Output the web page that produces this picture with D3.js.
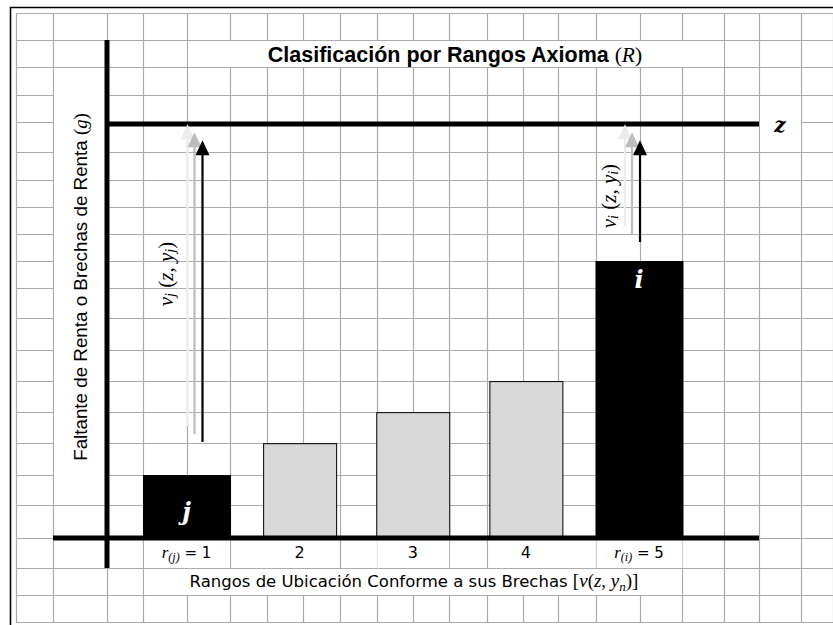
<!DOCTYPE html>
<html><head><meta charset="utf-8">
<script src="https://cdn.jsdelivr.net/npm/d3@7"></script>
<style>html,body{margin:0;padding:0;background:#fff;}svg{display:block;}</style>
</head><body>
<svg id="chart" width="833" height="625"></svg>
<script>
// ---- data ----
const categories = ["1", "2", "3", "4", "5"];
const barValues = [15.2, 22.9, 30.4, 37.9, 66.9];   // gap heights (z = 100)
const barLetters = ["j", "", "", "", "i"];
const tickPrefix = ["r", "", "", "", "r"];
const tickSub = ["(j)", "", "", "", "(i)"];
const tickNums = ["1", "2", "3", "4", "5"];
const zValue = 100;
const arrowCats = ["1", "5"];
const arrowStart = [23.2, 71.5];
const arrowEnd = 96.1;
const arrowSubs = ["j", "i"];

// ---- layout (spreadsheet grid) ----
const colEdges = [16, 53, 107, 143, 187, 230, 267, 303, 340, 377, 413, 449, 487, 523, 558, 596, 640, 682, 724, 759, 801, 833];
const rowEdges = [13, 40, 67, 95, 122, 152, 180, 207, 234, 261, 288, 318, 350, 381, 412, 443, 475, 505, 538, 568, 595, 622];
const arrowDx = [16, 1];
const labelDx = [-37, -31];

const svg = d3.select("#chart");
svg.append("rect").attr("width", 833).attr("height", 625).attr("fill", "#fff");

// grid
const g = svg.append("g");
g.selectAll("line.h").data(rowEdges).join("line")
  .attr("x1", 16).attr("x2", 833).attr("y1", d => d + 0.5).attr("y2", d => d + 0.5)
  .attr("stroke", "#ababab").attr("stroke-width", 1.2);
g.selectAll("line.v").data(colEdges).join("line")
  .attr("y1", 13).attr("y2", 622).attr("x1", d => d + 0.5).attr("x2", d => d + 0.5)
  .attr("stroke", "#ababab").attr("stroke-width", 1.2);

// frame
svg.append("path").attr("d", "M10.5,625 V7.5 H833").attr("fill", "none").attr("stroke", "#000").attr("stroke-width", 1.6);

const x = d3.scalePoint().domain(categories).range([186.5, 639]);
const y = d3.scaleLinear().domain([0, zValue]).range([538, 124]);
const bw = (i) => barLetters[i] ? 87 : 73;

// merged cells (white)
const merged = [[188, 41, 536, 26], [54, 68, 53, 437], [760, 96, 41, 56], [144, 569, 538, 26]];
svg.selectAll("rect.m").data(merged).join("rect")
  .attr("x", d => d[0]).attr("y", d => d[1]).attr("width", d => d[2]).attr("height", d => d[3]).attr("fill", "#fff");
// tick cells merged
svg.selectAll("rect.tc").data(categories).join("rect")
  .attr("x", (d, i) => x(d) - bw(i) / 2 + 1).attr("y", 539).attr("width", (d, i) => bw(i) - 1).attr("height", 29).attr("fill", "#fff");

// bars
svg.selectAll("rect.bar").data(categories).join("rect")
  .attr("x", (d, i) => x(d) - bw(i) / 2 + 0.5)
  .attr("y", (d, i) => y(barValues[i]) + 0.5)
  .attr("width", (d, i) => bw(i))
  .attr("height", (d, i) => y(0) - y(barValues[i]))
  .attr("fill", (d, i) => barLetters[i] ? "#000" : "#d9d9d9")
  .attr("stroke", "#000").attr("stroke-width", 1);

// bar letters
svg.selectAll("text.bl").data(categories).join("text")
  .attr("x", d => x(d)).attr("y", (d, i) => barLetters[i] === "j" ? y(barValues[i]) + 45 : y(barValues[i]) + 27)
  .attr("text-anchor", "middle")
  .attr("font-family", "DejaVu Serif").attr("font-style", "italic").attr("font-weight", "bold")
  .attr("font-size", 24).attr("fill", "#fff")
  .text((d, i) => barLetters[i]);

// axes lines
svg.append("line").attr("x1", 107).attr("x2", 107).attr("y1", 40).attr("y2", 568).attr("stroke", "#000").attr("stroke-width", 5);
svg.append("line").attr("x1", 53).attr("x2", 759).attr("y1", y(0)).attr("y2", y(0)).attr("stroke", "#000").attr("stroke-width", 5);
svg.append("line").attr("x1", 107).attr("x2", 759).attr("y1", y(zValue)).attr("y2", y(zValue)).attr("stroke", "#000").attr("stroke-width", 5);

svg.append("text").attr("x", 780).attr("y", 132).attr("text-anchor", "middle")
  .attr("font-family", "DejaVu Serif").attr("font-style", "italic").attr("font-weight", "bold").attr("font-size", 20)
  .text("z");

// arrows
const arrowStyles = [{dx: -15, dy: -16, c: "#ececec"}, {dx: -8, dy: -8, c: "#bdbdbd"}, {dx: 0, dy: 0, c: "#000"}];
arrowCats.forEach((cat, k) => {
  const ax = x(cat) + arrowDx[k];
  arrowStyles.forEach(s => {
    const x0 = ax + s.dx, yb = y(arrowStart[k]) + s.dy, yt = y(arrowEnd) + s.dy;
    svg.append("line").attr("x1", x0).attr("x2", x0).attr("y1", yb).attr("y2", yt + 12)
      .attr("stroke", s.c).attr("stroke-width", 2.2);
    svg.append("path").attr("d", `M${x0},${yt} L${x0 - 7},${yt + 15} L${x0 + 7},${yt + 15} Z`).attr("fill", s.c);
  });
  const lx = ax + labelDx[k], ly = (y(arrowStart[k]) + y(arrowEnd)) / 2 + (k === 0 ? -17 : 5);
  const t = svg.append("text").attr("transform", `translate(${lx},${ly}) rotate(-90)`)
    .attr("text-anchor", "middle").attr("dominant-baseline", "central")
    .attr("font-family", "Liberation Serif").attr("font-size", 21).attr("fill", "#000");
  t.append("tspan").attr("font-style", "italic").text("v");
  t.append("tspan").attr("font-style", "italic").attr("font-size", 14).attr("dy", 4).text(arrowSubs[k]);
  t.append("tspan").attr("dy", -4).text(" (");
  t.append("tspan").attr("font-style", "italic").text("z");
  t.append("tspan").text(", ");
  t.append("tspan").attr("font-style", "italic").text("y");
  t.append("tspan").attr("font-style", "italic").attr("font-size", 14).attr("dy", 4).text(arrowSubs[k]);
  t.append("tspan").attr("dy", -4).text(")");
});

// tick labels
svg.selectAll("text.tick").data(categories).join("text")
  .attr("x", d => x(d)).attr("y", 558).attr("text-anchor", "middle")
  .attr("font-family", "DejaVu Sans").attr("font-size", 16).attr("fill", "#000")
  .each(function (d, i) {
    const t = d3.select(this);
    if (tickPrefix[i]) {
      t.attr("font-size", 15);
      t.append("tspan").attr("font-family", "Liberation Serif").attr("font-style", "italic").attr("font-size", 17).text(tickPrefix[i]);
      t.append("tspan").attr("font-family", "Liberation Serif").attr("font-style", "italic").attr("font-size", 12).attr("dy", 3).text(tickSub[i]);
      t.append("tspan").attr("dy", -3).text(" = " + tickNums[i]);
    } else {
      t.text(tickNums[i]);
    }
  });

// title
const title = svg.append("text").attr("x", 455).attr("y", 62).attr("text-anchor", "middle")
  .attr("font-family", "Liberation Sans").attr("font-weight", "bold").attr("font-size", 21.5).attr("fill", "#000");
title.append("tspan").text("Clasificación por Rangos Axioma ");
title.append("tspan").attr("font-family", "Liberation Serif").attr("font-weight", "normal").text("(");
title.append("tspan").attr("font-family", "Liberation Serif").attr("font-style", "italic").attr("font-weight", "normal").text("R");
title.append("tspan").attr("font-family", "Liberation Serif").attr("font-weight", "normal").text(")");

// y axis label
const yl = svg.append("text").attr("transform", "translate(87,287) rotate(-90)").attr("text-anchor", "middle")
  .attr("font-family", "Liberation Sans").attr("font-size", 18.8).attr("fill", "#000");
yl.append("tspan").text("Faltante de Renta o Brechas de Renta ");
yl.append("tspan").attr("font-family", "Liberation Serif").text("(");
yl.append("tspan").attr("font-family", "Liberation Serif").attr("font-style", "italic").text("g");
yl.append("tspan").attr("font-family", "Liberation Serif").text(")");

// x axis label
const xl = svg.append("text").attr("x", 414).attr("y", 587).attr("text-anchor", "middle")
  .attr("font-family", "DejaVu Sans").attr("font-size", 16.5).attr("fill", "#000");
xl.append("tspan").text("Rangos de Ubicación Conforme a sus Brechas ");
xl.append("tspan").attr("font-family", "Liberation Serif").attr("font-size", 19).text("[");
xl.append("tspan").attr("font-family", "Liberation Serif").attr("font-style", "italic").attr("font-size", 19).text("v");
xl.append("tspan").attr("font-family", "Liberation Serif").attr("font-size", 19).text("(");
xl.append("tspan").attr("font-family", "Liberation Serif").attr("font-style", "italic").attr("font-size", 19).text("z, y");
xl.append("tspan").attr("font-family", "Liberation Serif").attr("font-style", "italic").attr("font-size", 13).attr("dy", 4).text("n");
xl.append("tspan").attr("font-family", "Liberation Serif").attr("font-size", 19).attr("dy", -4).text(")]");
</script>
</body></html>
